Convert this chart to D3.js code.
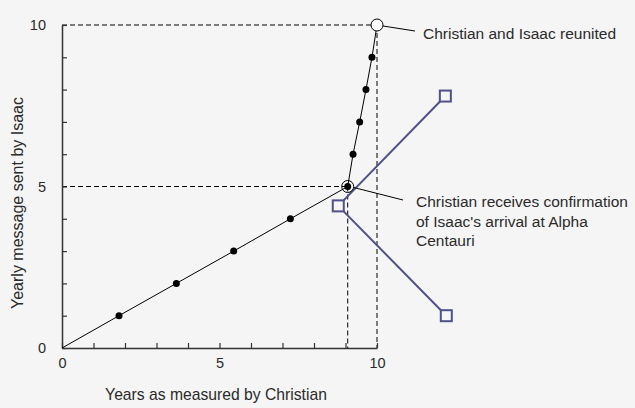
<!DOCTYPE html>
<html>
<head>
<meta charset="utf-8">
<script src="https://cdn.jsdelivr.net/npm/d3@7"></script>
<style>
  body { margin: 0; background: #f5f5f5; }
  svg { display: block; font-family: "Liberation Sans", Arial, sans-serif; }
</style>
</head>
<body>
<svg id="chart" width="635" height="408"></svg>
<script>
// years on Christian's clock when each yearly message from Isaac arrives
const years = [0, 1.81, 3.63, 5.45, 7.25, 9.07, 9.24, 9.45, 9.65, 9.84, 10];
const messages = [0, 1, 2, 3, 4, 5, 6, 7, 8, 9, 10];

// the blue "<" shape
const squareX = [8.77, 12.17, 12.2];
const squareY = [4.4, 7.8, 1.0];

// highlighted events
const eventX = [9.07, 10];
const eventY = [5, 10];
const eventText = [
  ["Christian receives confirmation", "of Isaac's arrival at Alpha", "Centauri"],
  ["Christian and Isaac reunited"]
];

const xTicks = d3.range(0, 11);
const yTicks = d3.range(0, 11);

const svg = d3.select("#chart");

let x = d3.scaleLinear().domain([0, 10]).range([62, 377]);
let y = d3.scaleLinear().domain([0, 10]).range([348, 25]);

let blue = "#50508a";
let ink = "#2a2a2a";

// dashed guide lines
eventX.forEach((ex, i) => {
  let ey = eventY[i];
  svg.append("line")
    .attr("x1", x(0)).attr("x2", x(ex))
    .attr("y1", y(ey)).attr("y2", y(ey))
    .attr("stroke", "#000").attr("stroke-dasharray", "5,3");
  svg.append("line")
    .attr("x1", x(ex)).attr("x2", x(ex))
    .attr("y1", y(ey)).attr("y2", y(0))
    .attr("stroke", "#000").attr("stroke-dasharray", "5,3");
});

// axes with inward ticks
let fmt = (d) => (d % 5 === 0 ? d : "");

let yAxis = svg.append("g")
  .attr("transform", "translate(" + x(0) + ",0)")
  .call(d3.axisLeft(y).tickValues(yTicks).tickFormat(fmt).tickSizeInner(-5).tickSizeOuter(0).tickPadding(16));

let xAxis = svg.append("g")
  .attr("transform", "translate(0," + y(0) + ")")
  .call(d3.axisBottom(x).tickValues(xTicks).tickFormat(fmt).tickSizeInner(-5).tickSizeOuter(0).tickPadding(10));

[xAxis, yAxis].forEach((g) => {
  g.select(".domain").attr("stroke", "#333").attr("stroke-width", 1.5);
  g.selectAll(".tick line").attr("stroke", "#333").attr("stroke-width", 1.2);
  g.selectAll("text").attr("font-size", 14.5).attr("fill", ink)
    .attr("font-family", "'Liberation Sans', Arial, sans-serif");
});

// axis titles
svg.append("text")
  .attr("x", 216).attr("y", 400)
  .attr("text-anchor", "middle")
  .attr("font-size", 15.7).attr("fill", ink)
  .text("Years as measured by Christian");

svg.append("text")
  .attr("transform", "translate(23,203) rotate(-90)")
  .attr("text-anchor", "middle")
  .attr("font-size", 16).attr("fill", ink)
  .text("Yearly message sent by Isaac");

// blue lines and squares
let sq = squareX.map((d, i) => [d, squareY[i]]);
[1, 2].forEach((j) => {
  svg.append("line")
    .attr("x1", x(sq[0][0])).attr("y1", y(sq[0][1]))
    .attr("x2", x(sq[j][0])).attr("y2", y(sq[j][1]))
    .attr("stroke", blue).attr("stroke-width", 2);
});

// main world line
let pts = years.map((d, i) => [d, messages[i]]);
svg.append("path")
  .datum(pts)
  .attr("fill", "none")
  .attr("stroke", "#000")
  .attr("stroke-width", 1)
  .attr("d", d3.line().x((d) => x(d[0])).y((d) => y(d[1])));

svg.selectAll("rect.sq")
  .data(sq)
  .enter()
  .append("rect")
  .attr("class", "sq")
  .attr("x", (d) => x(d[0]) - 5.5)
  .attr("y", (d) => y(d[1]) - 5.5)
  .attr("width", 11).attr("height", 11)
  .attr("fill", "#f5f5f5")
  .attr("stroke", blue).attr("stroke-width", 2);

// message dots
svg.selectAll("circle.dot")
  .data(pts.slice(1, -1))
  .enter()
  .append("circle")
  .attr("class", "dot")
  .attr("cx", (d) => x(d[0]))
  .attr("cy", (d) => y(d[1]))
  .attr("r", 3.5)
  .attr("fill", "#000");

// event circles
svg.append("circle")
  .attr("cx", x(eventX[0])).attr("cy", y(eventY[0])).attr("r", 6)
  .attr("fill", "none").attr("stroke", "#000").attr("stroke-width", 1);
svg.append("circle")
  .attr("cx", x(eventX[1])).attr("cy", y(eventY[1])).attr("r", 6)
  .attr("fill", "#fff").attr("stroke", "#000").attr("stroke-width", 1);

// annotation leader lines
svg.append("line")
  .attr("x1", x(eventX[0]) + 6).attr("y1", y(eventY[0]) + 1)
  .attr("x2", 403).attr("y2", 200)
  .attr("stroke", "#000");
svg.append("line")
  .attr("x1", x(eventX[1]) + 6).attr("y1", y(eventY[1]) + 1)
  .attr("x2", 415).attr("y2", 31)
  .attr("stroke", "#000");

// annotation texts
let t1 = svg.append("text").attr("x", 416).attr("y", 207)
  .attr("font-size", 15.5).attr("fill", ink);
eventText[0].forEach((line, i) => {
  t1.append("tspan").attr("x", 416).attr("dy", i === 0 ? 0 : 19.5).text(line);
});

svg.append("text").attr("x", 423).attr("y", 39)
  .attr("font-size", 15.5).attr("fill", ink)
  .text(eventText[1][0]);
</script>
</body>
</html>
